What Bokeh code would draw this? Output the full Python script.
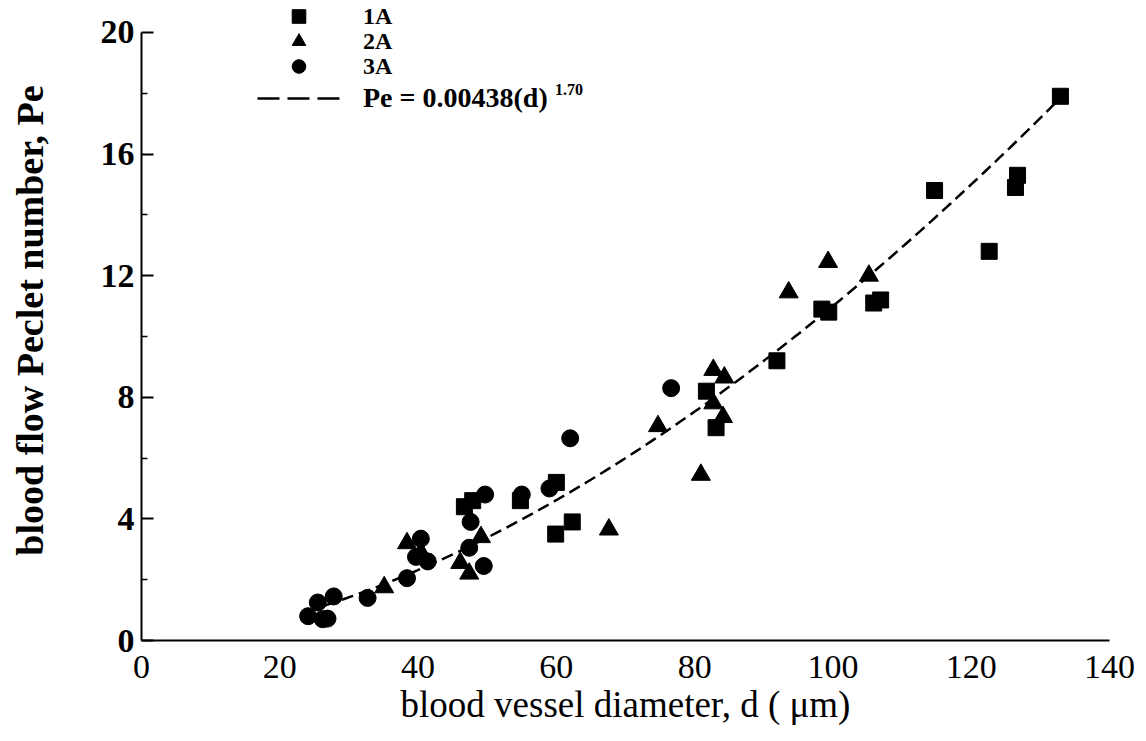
from bokeh.plotting import figure
from bokeh.models import Range1d, FixedTicker, Legend, LegendItem, Label
from bokeh.embed import file_html
from bokeh.resources import INLINE
import numpy as np

# ---- data ----
d_1A = [132.9, 114.7, 126.7, 126.4, 122.6, 105.9, 106.9, 98.4, 99.4, 91.9,
        81.7, 83.1, 60.0, 54.8, 62.3, 59.9, 46.7, 47.9]
pe_1A = [17.9, 14.8, 15.3, 14.9, 12.8, 11.1, 11.2, 10.9, 10.8, 9.2,
         8.2, 7.0, 5.2, 4.6, 3.9, 3.5, 4.4, 4.6]

d_2A = [105.2, 99.3, 93.6, 82.7, 84.3, 82.7, 84.1, 74.7, 80.9, 67.6,
        49.1, 47.4, 46.1, 38.4, 40.4, 35.1]
pe_2A = [12.0, 12.45, 11.45, 8.9, 8.65, 7.8, 7.35, 7.05, 5.45, 3.65,
         3.4, 2.2, 2.55, 3.2, 2.9, 1.75]

d_3A = [76.6, 62.0, 55.0, 59.0, 49.7, 47.6, 47.4, 49.5, 40.4, 39.7,
        41.4, 38.4, 32.7, 27.8, 25.5, 24.1, 26.2, 26.9]
pe_3A = [8.3, 6.65, 4.8, 5.0, 4.8, 3.9, 3.05, 2.45, 3.35, 2.75,
         2.6, 2.05, 1.4, 1.45, 1.25, 0.8, 0.7, 0.72]

# fitted curve stated in the legend: Pe = 0.00438 (d)^1.70
fit_coef = 0.00438
fit_exp = 1.70
fit_d_min, fit_d_max = 26.5, 133.0

x_ticks = [0, 20, 40, 60, 80, 100, 120, 140]
y_ticks = [0, 4, 8, 12, 16, 20]
y_minor = [2, 6, 10, 14, 18]

series_labels = ["1A", "2A", "3A"]
fit_label = "Pe = 0.00438(d)"
fit_sup = "1.70"

SERIF = "Liberation Serif"

# frame extends to the top of the canvas so the legend (above 20) is not clipped;
# the y axis line itself stops at 20 via axis bounds
p = figure(width=1146, height=741, x_range=Range1d(0, 140), y_range=Range1d(0, 21.05),
           output_backend="svg", toolbar_location=None,
           min_border_left=141, min_border_right=37, min_border_top=0, min_border_bottom=101)
p.outline_line_color = None
p.grid.visible = False
p.background_fill_color = "white"
p.border_fill_color = "white"

# axes
xa = p.xaxis[0]
xa.ticker = FixedTicker(ticks=x_ticks)
xa.major_tick_in = 0
xa.major_tick_out = 0
xa.minor_tick_in = 0
xa.minor_tick_out = 0
xa.axis_line_width = 2
xa.major_label_text_font = SERIF
xa.major_label_text_font_size = "34px"
xa.major_label_text_color = "black"
xa.major_label_standoff = 15
xa.axis_label = "blood vessel diameter, d ( \u03bcm)"
xa.axis_label_text_font = SERIF
xa.axis_label_text_font_size = "37px"
xa.axis_label_text_font_style = "normal"
xa.axis_label_text_color = "black"
xa.axis_label_standoff = 3

ya = p.yaxis[0]
ya.bounds = (0, 20)
ya.ticker = FixedTicker(ticks=y_ticks, minor_ticks=y_minor)
ya.major_tick_in = 12
ya.major_tick_out = 0
ya.minor_tick_in = 6
ya.minor_tick_out = 0
ya.major_tick_line_width = 2
ya.minor_tick_line_width = 1.5
ya.axis_line_width = 2
ya.major_label_text_font = SERIF
ya.major_label_text_font_size = "34px"
ya.major_label_text_font_style = "bold"
ya.major_label_text_color = "black"
ya.major_label_standoff = 7
ya.axis_label = "blood flow Peclet number, Pe"
ya.axis_label_text_font = SERIF
ya.axis_label_text_font_size = "38px"
ya.axis_label_text_font_style = "bold"
ya.axis_label_text_color = "black"
ya.axis_label_standoff = 47

# fitted line
fd = np.linspace(fit_d_min, fit_d_max, 200)
fpe = fit_coef * fd ** fit_exp
p.line(fd, fpe, line_color="black", line_width=2.5, line_dash="12 6")
leg_line = p.line([np.nan, np.nan], [np.nan, np.nan], line_color="black",
                  line_width=2.5, line_dash="22 8")

r1 = p.scatter(d_1A, pe_1A, marker="square", size=16, color="black")
r2 = p.scatter(d_2A, pe_2A, marker="triangle", size=19, color="black")
r3 = p.scatter(d_3A, pe_3A, marker="circle", size=17, color="black")

# one single-row legend per entry so that each row sits where the reference has it
row_items = [(series_labels[0], r1, 607, "24px"),
             (series_labels[1], r2, 582, "24px"),
             (series_labels[2], r3, 557, "24px"),
             (fit_label, leg_line, 525, "28px")]
for lab, rend, ypos, fs in row_items:
    lg = Legend(items=[LegendItem(label=lab, renderers=[rend])],
                location=(116, ypos), orientation="vertical",
                glyph_width=83, glyph_height=34, label_height=20, spacing=0,
                label_standoff=23, padding=0, margin=0,
                border_line_color=None, background_fill_alpha=0,
                label_text_font=SERIF, label_text_font_size=fs,
                label_text_font_style="bold", label_text_color="black")
    p.add_layout(lg, "center")

p.add_layout(Label(x=59.8, y=18.3, text=fit_sup, text_font=SERIF, text_font_size="16px",
                   text_font_style="bold", text_color="black", text_baseline="top"))

open("out.html", "w").write(file_html(p, INLINE))
